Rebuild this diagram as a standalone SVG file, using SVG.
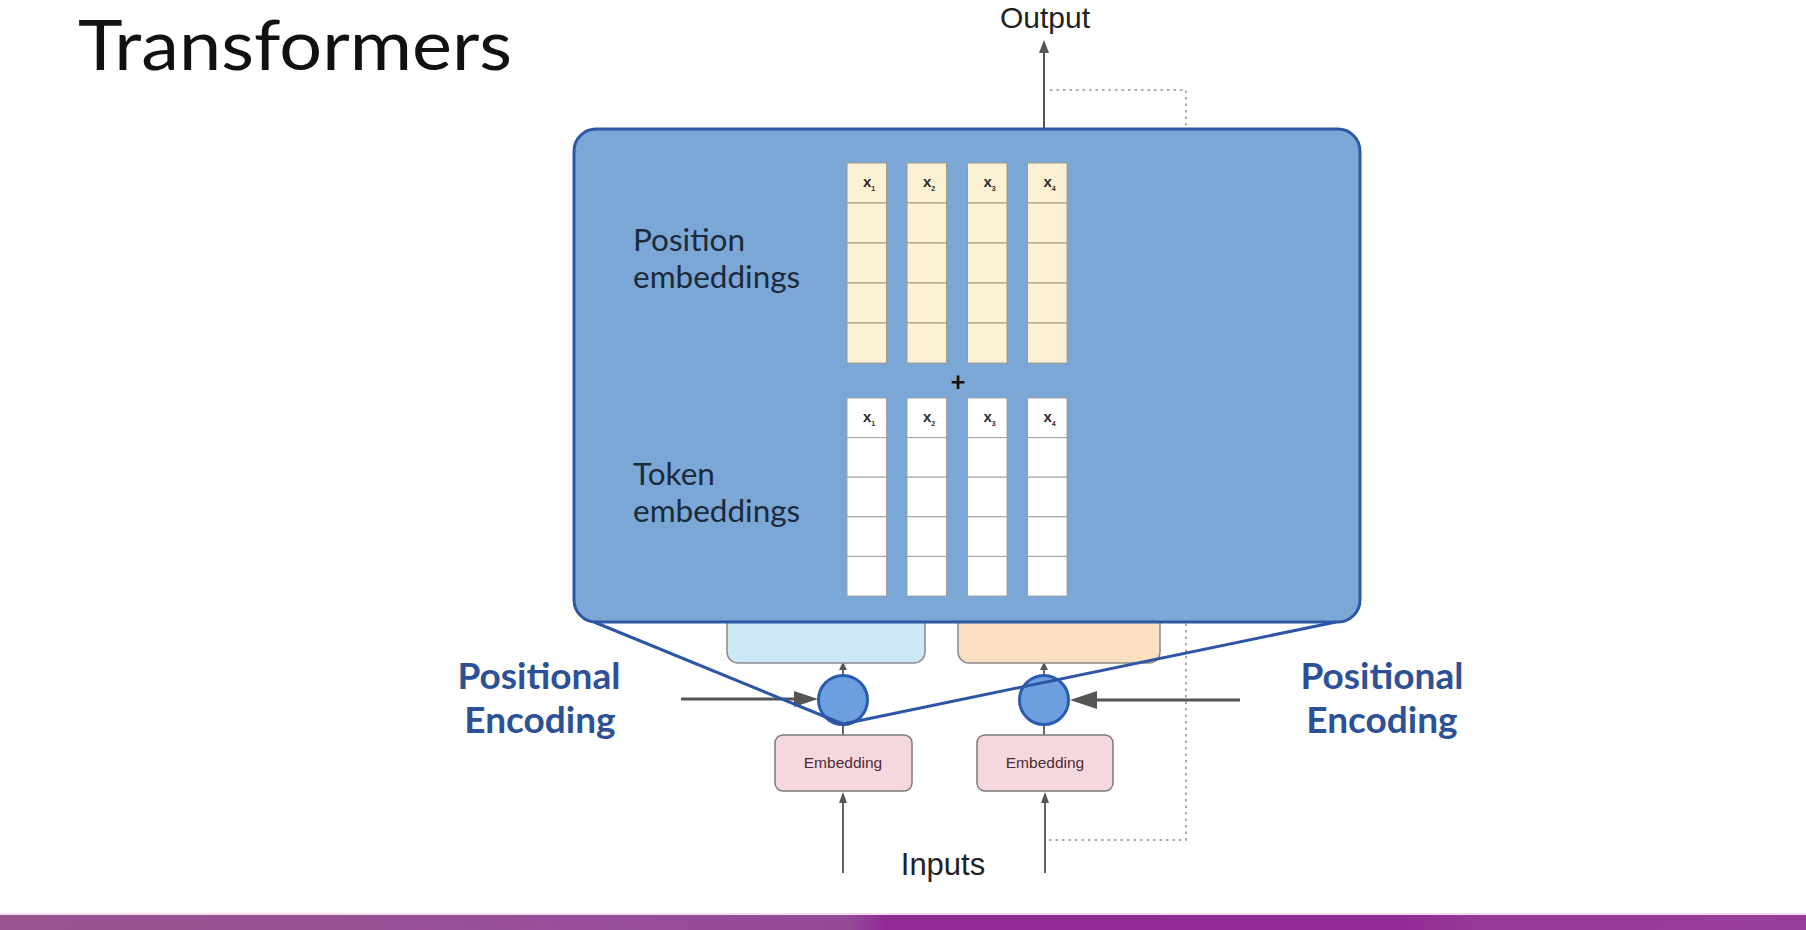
<svg xmlns="http://www.w3.org/2000/svg" width="1806" height="930" viewBox="0 0 1806 930">
<style>
.lato{font-family:Lato,"Open Sans","Liberation Sans",sans-serif}
.arial{font-family:"Liberation Sans",Arial,sans-serif}
.pcell{fill:#fcf1d2;stroke:#a09a88;stroke-width:1}
.tcell{fill:#ffffff;stroke:#a0a0a0;stroke-width:1}
.xl{font-family:"Liberation Sans",Arial,sans-serif;font-size:15px;font-weight:bold;fill:#2a2a2a}
.sub{font-size:7px}
.lbl{font-family:Lato,"Open Sans",sans-serif;font-size:31.5px;fill:#1c2a3a}
.pe{font-family:Lato,"Open Sans",sans-serif;font-size:37px;font-weight:bold;fill:#2d5196;text-anchor:middle}
.emb{fill:#f5d8de;stroke:#7a7a7a;stroke-width:1.5}
.embt{font-family:"Liberation Sans",Arial,sans-serif;font-size:15.5px;fill:#4b2c35;text-anchor:middle}
.circ{fill:#6d9fe0;stroke:#2b5bb0;stroke-width:3}
.gray{stroke:#555;fill:none}
.dot{stroke:#aaaaaa;stroke-width:2;fill:none;stroke-dasharray:2.5 4}
</style>
<defs>
<linearGradient id="bar" x1="0" y1="0" x2="1" y2="0">
<stop offset="0" stop-color="#98558f"/>
<stop offset="0.3" stop-color="#964f98"/>
<stop offset="0.47" stop-color="#934a96"/>
<stop offset="0.49" stop-color="#922a96"/>
<stop offset="0.78" stop-color="#922b96"/>
<stop offset="0.82" stop-color="#963b96"/>
<stop offset="1" stop-color="#953e98"/>
</linearGradient>
</defs>
<rect x="0" y="0" width="1806" height="930" fill="#ffffff"/>

<g id="title"><text class="lato" x="78" y="70" font-size="70" fill="#111" textLength="434" lengthAdjust="spacingAndGlyphs">Transformers</text></g>

<g id="connectors">
<path class="dot" d="M1050,90 H1186 V840 H1046"/>
<line class="gray" x1="1044" y1="130" x2="1044" y2="50" stroke-width="2"/>
<polygon points="1044,40 1039,53 1049,53" fill="#555"/>
<line class="gray" x1="843" y1="873" x2="843" y2="801" stroke-width="1.8"/>
<polygon points="843,792 839,803 847,803" fill="#555"/>
<line class="gray" x1="1045" y1="873" x2="1045" y2="801" stroke-width="1.8"/>
<polygon points="1045,792 1041,803 1049,803" fill="#555"/>
<line class="gray" x1="843" y1="735" x2="843" y2="724" stroke-width="1.8"/>
<line class="gray" x1="1044" y1="735" x2="1044" y2="724" stroke-width="1.8"/>
<line class="gray" x1="843" y1="676" x2="843" y2="666" stroke-width="1.8"/>
<polygon points="843,662 839,670 847,670" fill="#555"/>
<line class="gray" x1="1044" y1="676" x2="1044" y2="666" stroke-width="1.8"/>
<polygon points="1044,662 1040,670 1048,670" fill="#555"/>
<line class="gray" x1="681" y1="699" x2="800" y2="699" stroke-width="3"/>
<polygon points="818,699 794,691 794,707" fill="#555"/>
<line class="gray" x1="1240" y1="700" x2="1090" y2="700" stroke-width="3"/>
<polygon points="1070,700 1097,691 1097,709" fill="#555"/>
</g>

<g id="decoder-block"><rect x="727" y="600" width="198" height="63" rx="11" fill="#cbe8f4" stroke="#8a8a8a" stroke-width="1.5"/></g>
<g id="encoder-block"><rect x="958" y="600" width="202" height="63" rx="11" fill="#fbdfc1" stroke="#8a8a8a" stroke-width="1.5"/></g>

<g id="add-left"><circle class="circ" cx="843" cy="700" r="24.5"/></g>
<g id="add-right"><circle class="circ" cx="1044" cy="700" r="24.5"/></g>

<g id="embedding-left"><rect class="emb" x="775" y="735" width="137" height="56" rx="8"/><text class="embt" x="843" y="768">Embedding</text></g>
<g id="embedding-right"><rect class="emb" x="977" y="735" width="136" height="56" rx="8"/><text class="embt" x="1045" y="768">Embedding</text></g>

<g id="zoom-box">
<rect x="574" y="129" width="786" height="493" rx="22" fill="#7ba7d7" stroke="#2f58a3" stroke-width="3"/>
<text class="lbl" x="633" y="251">Position</text>
<text class="lbl" x="633" y="288">embeddings</text>
<text class="lbl" x="633" y="485">Token</text>
<text class="lbl" x="633" y="522">embeddings</text>
<text class="lato" x="958" y="391" font-size="26" font-weight="bold" fill="#111" text-anchor="middle">+</text>
</g>

<g id="position-embeddings">
<rect class="pcell" x="847" y="163" width="39.5" height="40"/><rect class="pcell" x="847" y="203" width="39.5" height="40"/><rect class="pcell" x="847" y="243" width="39.5" height="40"/><rect class="pcell" x="847" y="283" width="39.5" height="40"/><rect class="pcell" x="847" y="323" width="39.5" height="40"/>
<rect class="pcell" x="907" y="163" width="39.5" height="40"/><rect class="pcell" x="907" y="203" width="39.5" height="40"/><rect class="pcell" x="907" y="243" width="39.5" height="40"/><rect class="pcell" x="907" y="283" width="39.5" height="40"/><rect class="pcell" x="907" y="323" width="39.5" height="40"/>
<rect class="pcell" x="967.5" y="163" width="39.5" height="40"/><rect class="pcell" x="967.5" y="203" width="39.5" height="40"/><rect class="pcell" x="967.5" y="243" width="39.5" height="40"/><rect class="pcell" x="967.5" y="283" width="39.5" height="40"/><rect class="pcell" x="967.5" y="323" width="39.5" height="40"/>
<rect class="pcell" x="1027.5" y="163" width="39.5" height="40"/><rect class="pcell" x="1027.5" y="203" width="39.5" height="40"/><rect class="pcell" x="1027.5" y="243" width="39.5" height="40"/><rect class="pcell" x="1027.5" y="283" width="39.5" height="40"/><rect class="pcell" x="1027.5" y="323" width="39.5" height="40"/>
<text class="xl" x="863" y="187">x<tspan class="sub" dy="4">1</tspan></text>
<text class="xl" x="923" y="187">x<tspan class="sub" dy="4">2</tspan></text>
<text class="xl" x="983.5" y="187">x<tspan class="sub" dy="4">3</tspan></text>
<text class="xl" x="1043.5" y="187">x<tspan class="sub" dy="4">4</tspan></text>
</g>

<g id="token-embeddings">
<rect class="tcell" x="847" y="398" width="39.5" height="39.6"/><rect class="tcell" x="847" y="437.6" width="39.5" height="39.6"/><rect class="tcell" x="847" y="477.2" width="39.5" height="39.6"/><rect class="tcell" x="847" y="516.8" width="39.5" height="39.6"/><rect class="tcell" x="847" y="556.4" width="39.5" height="39.6"/>
<rect class="tcell" x="907" y="398" width="39.5" height="39.6"/><rect class="tcell" x="907" y="437.6" width="39.5" height="39.6"/><rect class="tcell" x="907" y="477.2" width="39.5" height="39.6"/><rect class="tcell" x="907" y="516.8" width="39.5" height="39.6"/><rect class="tcell" x="907" y="556.4" width="39.5" height="39.6"/>
<rect class="tcell" x="967.5" y="398" width="39.5" height="39.6"/><rect class="tcell" x="967.5" y="437.6" width="39.5" height="39.6"/><rect class="tcell" x="967.5" y="477.2" width="39.5" height="39.6"/><rect class="tcell" x="967.5" y="516.8" width="39.5" height="39.6"/><rect class="tcell" x="967.5" y="556.4" width="39.5" height="39.6"/>
<rect class="tcell" x="1027.5" y="398" width="39.5" height="39.6"/><rect class="tcell" x="1027.5" y="437.6" width="39.5" height="39.6"/><rect class="tcell" x="1027.5" y="477.2" width="39.5" height="39.6"/><rect class="tcell" x="1027.5" y="516.8" width="39.5" height="39.6"/><rect class="tcell" x="1027.5" y="556.4" width="39.5" height="39.6"/>
<text class="xl" x="863" y="422">x<tspan class="sub" dy="4">1</tspan></text>
<text class="xl" x="923" y="422">x<tspan class="sub" dy="4">2</tspan></text>
<text class="xl" x="983.5" y="422">x<tspan class="sub" dy="4">3</tspan></text>
<text class="xl" x="1043.5" y="422">x<tspan class="sub" dy="4">4</tspan></text>
</g>

<g id="zoom-lines"><polyline points="594,622 843,724 1336,622" fill="none" stroke="#2d55a5" stroke-width="3" stroke-linejoin="round"/></g>

<g id="label-left"><text class="pe" x="539" y="689">Positional</text><text class="pe" x="540" y="733">Encoding</text></g>
<g id="label-right"><text class="pe" x="1382" y="689">Positional</text><text class="pe" x="1382" y="733">Encoding</text></g>

<g id="output-label"><text class="arial" x="1045" y="28" font-size="30" fill="#222" text-anchor="middle">Output</text></g>
<g id="inputs-label"><text class="arial" x="943" y="875" font-size="31" fill="#222" text-anchor="middle">Inputs</text></g>

<g id="footer">
<rect x="0" y="913" width="1806" height="3" fill="#f3dcef"/>
<rect x="0" y="915" width="1806" height="15" fill="url(#bar)"/>
</g>
</svg>
